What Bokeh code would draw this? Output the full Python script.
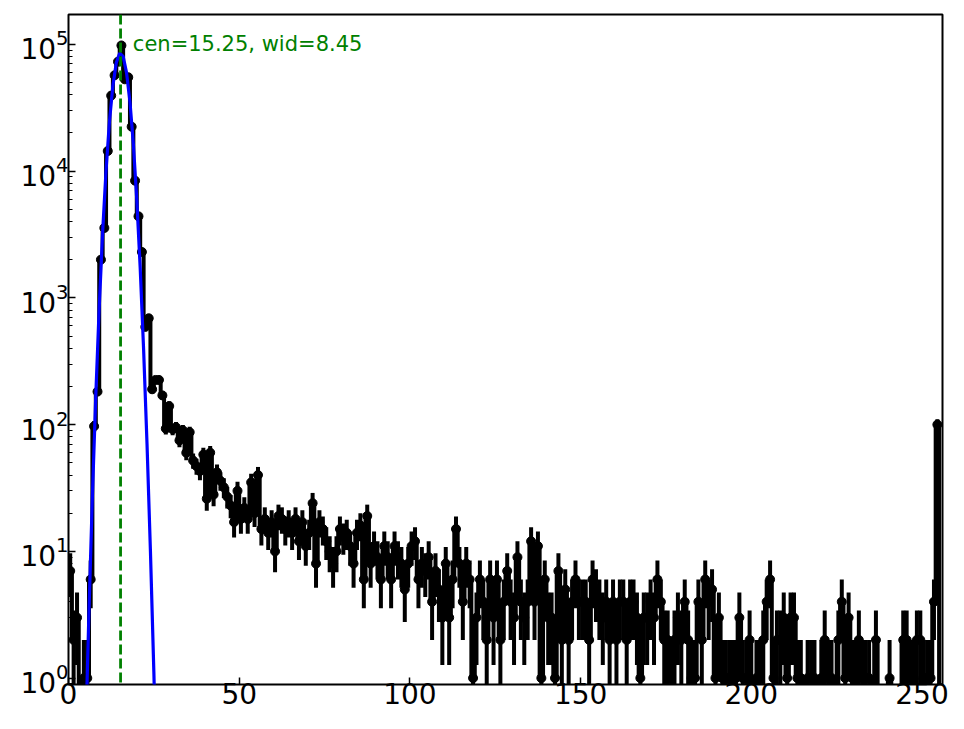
import numpy as np
from bokeh.plotting import figure
from bokeh.models import Range1d, FixedTicker, Span, ColumnDataSource
from bokeh.embed import file_html
from bokeh.resources import INLINE
from bokeh.core.properties import value

# ---- data ----
counts = [
    7, 2, 3, 0, 1, 1, 6, 97, 182, 2000,
    3560, 14400, 39400, 57000, 73000, 98000, 53000, 55000, 22400, 8400,
    4400, 2300, 590, 690, 190, 225, 225, 170, 93, 140,
    92, 95, 75, 90, 60, 87, 52, 47, 43, 58,
    26, 60, 28, 42, 36, 32, 27, 23, 17, 30,
    18, 22, 18, 35, 20, 40, 15, 18, 14, 17,
    10, 19, 18, 15, 17, 14, 18, 12, 17, 11,
    14, 24, 8, 17, 15, 12, 10, 8, 10, 15,
    13, 14, 11, 8, 14, 16, 6, 19, 8, 11,
    9, 6, 11, 9, 6, 11, 9, 8, 5, 8,
    11, 12, 6, 8, 7, 9, 4, 7, 5, 3,
    8, 3, 6, 15, 8, 4, 8, 6, 1, 3,
    6, 4, 2, 6, 3, 6, 2, 4, 7, 4,
    3, 9, 4, 3, 4, 12, 4, 11, 1, 6,
    3, 3, 1, 7, 2, 5, 2, 4, 6, 4,
    4, 4, 2, 6, 5, 4, 3, 4, 2, 4,
    2, 4, 4, 2, 4, 4, 3, 1, 3, 3,
    4, 3, 6, 4, 2, 2, 1, 2, 3, 2,
    4, 2, 1, 1, 4, 2, 6, 4, 5, 1,
    3, 1, 1, 1, 1, 1, 3, 1, 1, 2,
    0, 1, 1, 2, 4, 6, 1, 2, 2, 3,
    1, 3, 3, 1, 1, 0, 1, 1, 1, 0,
    1, 2, 1, 1, 0, 2, 4, 1, 3, 1,
    1, 2, 1, 1, 1, 0, 2, 0, 0, 0,
    1, 0, 0, 0, 2, 2, 1, 1, 2, 2,
    1, 1, 1, 4, 100, 0,
]
bins = list(range(256))

fit_x = [4, 5, 6, 7, 8, 9, 10, 11, 12, 13, 14, 15, 16, 17, 18, 19,
         20, 21, 22, 23, 24, 25, 26, 27]
fit_y = [0.027, 0.34, 3.4, 27.3, 171, 845, 3295, 10150, 24640, 47230,
         71470, 85360, 80460, 59860, 35140, 16290, 5955, 1720, 391, 70.3,
         9.99, 1.12, 0.099, 0.0069]

cen = 15.25
wid = 8.45
x_ticks = [0, 50, 100, 150, 200, 250]
y_ticks = [1, 10, 100, 1000, 10000, 100000]

# ---- derived display arrays ----
c = np.array(counts, dtype=float)
xc = np.array(bins, dtype=float) + 0.5
floor = 1e-3
y_line = np.where(c > 0, c, floor)
pos = c > 0
err = np.sqrt(c)
lo = np.where(c - err > 0, c - err, floor)
hi = c + err

p = figure(
    x_range=Range1d(0, 256), y_range=Range1d(0.89, 1.72e5),
    y_axis_type="log", output_backend="svg", toolbar_location=None,
    frame_width=874, frame_height=670,
    min_border_left=68, min_border_right=14, min_border_top=14, min_border_bottom=37,
    background_fill_color="white", border_fill_color="white",
)
p.grid.visible = False
p.outline_line_color = "black"
p.outline_line_width = 2

# data: error bars, step line, markers
p.segment(x0=xc[pos], y0=lo[pos], x1=xc[pos], y1=hi[pos], line_color="black", line_width=4)
p.step(x=xc, y=y_line, mode="center", line_color="black", line_width=4)
p.scatter(x=xc[pos], y=c[pos], size=9, fill_color="black", line_color="black")

# gaussian fit
p.line(x=fit_x, y=fit_y, line_color="#0000ff", line_width=3.2)

# centre marker
p.add_layout(Span(location=cen, dimension="height", line_color="green",
                  line_dash="10 4", line_width=2.8))
p.text(x=[cen + 3.6], y=[1e5], text=[f"cen={cen:.2f}, wid={wid:.2f}"],
       text_font=value("DejaVu Sans"), text_font_size="21px", text_color="green",
       text_baseline="alphabetic", text_align="left")

for ax in (p.xaxis[0], p.yaxis[0]):
    ax.axis_line_color = None
    ax.major_tick_in = 7
    ax.major_tick_out = 0
    ax.major_tick_line_width = 1.5
    ax.major_tick_line_color = "black"
    ax.major_label_text_font = "DejaVu Sans"
    ax.major_label_text_font_size = "28px"
    ax.major_label_text_color = "black"

p.xaxis.ticker = FixedTicker(ticks=x_ticks)
p.xaxis.minor_tick_line_color = None
p.xaxis.major_label_standoff = -2

minors = [m * 10 ** e for e in range(-1, 6) for m in range(2, 10)]
p.yaxis.ticker = FixedTicker(ticks=y_ticks, minor_ticks=minors)
p.yaxis.minor_tick_in = 4
p.yaxis.minor_tick_out = 0
p.yaxis.minor_tick_line_width = 1.2
p.yaxis.minor_tick_line_color = "black"
p.yaxis.major_label_standoff = 0

open("out.html", "w").write(file_html(p, INLINE))
